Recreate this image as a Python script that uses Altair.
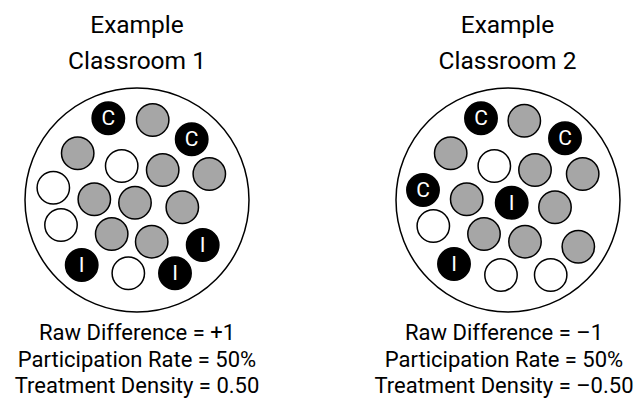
import altair as alt
import pandas as pd

# Classroom outlines (page pixel coordinates)
room_x = [137, 508]
room_y = [200, 200]

# Students: kind = gray (participant), white (non-participant), C (control), I (intervention)
c1_x = [108.3, 152.7, 191.7, 77.7, 121.7, 162.7, 209.3, 53.3, 94.3, 135, 182.3, 61, 111.7, 151.7, 202.7, 81.7, 128.3, 175]
c1_y = [118.3, 120, 139.3, 153.3, 166, 170, 174, 187.7, 199.3, 202.7, 207.3, 225, 234, 241.7, 245, 265, 273.3, 273.3]
c1_k = ["C", "gray", "C", "gray", "white", "gray", "gray", "white", "gray", "gray", "gray", "white", "gray", "gray", "I", "I", "white", "I"]

c2_x = [481, 524.3, 565, 450.7, 494.3, 535, 582.7, 423, 466.7, 511.7, 555, 433.3, 484, 525, 578.3, 454, 501, 550.7]
c2_y = [118.3, 120.7, 138.3, 153.3, 166, 170, 174, 190, 199.3, 202.7, 207.3, 226, 234, 241.7, 246.7, 264, 275, 275]
c2_k = ["C", "gray", "C", "gray", "white", "gray", "gray", "C", "gray", "I", "gray", "white", "gray", "gray", "gray", "I", "white", "white"]

title_x = [137, 507.5]
title_lines = [["Example", "Classroom 1"], ["Example", "Classroom 2"]]
title_y = [25.5, 62]

stat_x = [137, 504]
stat_lines = [
    ["Raw Difference = +1", "Participation Rate = 50%", "Treatment Density = 0.50"],
    ["Raw Difference = \u20131", "Participation Rate = 50%", "Treatment Density = \u20130.50"],
]
stat_y = [332.5, 359.5, 386]

FONT = "Roboto, sans-serif"

rooms = pd.DataFrame({"x": room_x, "y": room_y})
students = pd.DataFrame({
    "x": c1_x + c2_x,
    "y": c1_y + c2_y,
    "kind": c1_k + c2_k,
})
students["fill"] = students["kind"].map({"gray": "gray", "white": "white", "C": "black", "I": "black"})
students["label"] = students["kind"].map({"gray": "", "white": "", "C": "C", "I": "I"})

titles, stats = [], []
for i, tx in enumerate(title_x):
    for j, t in enumerate(title_lines[i]):
        titles.append({"x": tx, "y": title_y[j], "t": t})
for i, sx in enumerate(stat_x):
    for j, t in enumerate(stat_lines[i]):
        stats.append({"x": sx, "y": stat_y[j], "t": t})
titles = pd.DataFrame(titles)
stats = pd.DataFrame(stats)

W, H = 627, 392
xs = alt.Scale(domain=[8, 8 + W], nice=False, zero=False)
ys = alt.Scale(domain=[8 + H, 8], nice=False, zero=False)
X = lambda: alt.X("x:Q", scale=xs, axis=None)
Y = lambda: alt.Y("y:Q", scale=ys, axis=None)

big = alt.Chart(rooms).mark_point(
    shape="circle", filled=False, size=224 * 224, stroke="black", strokeWidth=1.5, opacity=1
).encode(x=X(), y=Y())

dots = alt.Chart(students).mark_point(
    shape="circle", filled=True, size=1050, stroke="black", strokeWidth=1.5, opacity=1
).encode(
    x=X(), y=Y(),
    fill=alt.Fill("fill:N", scale=alt.Scale(domain=["gray", "white", "black"], range=["#a6a6a6", "#ffffff", "#000000"]), legend=None),
)

letters = alt.Chart(students).mark_text(
    font=FONT, fontSize=21, fontWeight="normal", color="white", baseline="middle", align="center", dy=1
).encode(x=X(), y=Y(), text="label:N")

title_text = alt.Chart(titles).mark_text(
    font=FONT, fontSize=24.5, color="black", baseline="middle", align="center"
).encode(x=X(), y=Y(), text="t:N")

stat_text = alt.Chart(stats).mark_text(
    font=FONT, fontSize=22, color="black", baseline="middle", align="center"
).encode(x=X(), y=Y(), text="t:N")

chart = alt.layer(big, dots, letters, title_text, stat_text).properties(
    width=W, height=H, padding=0, autosize=alt.AutoSizeParams(type="none")
).configure_view(stroke=None)

chart.save("out.html", embed_options={"renderer": "svg", "actions": False})
